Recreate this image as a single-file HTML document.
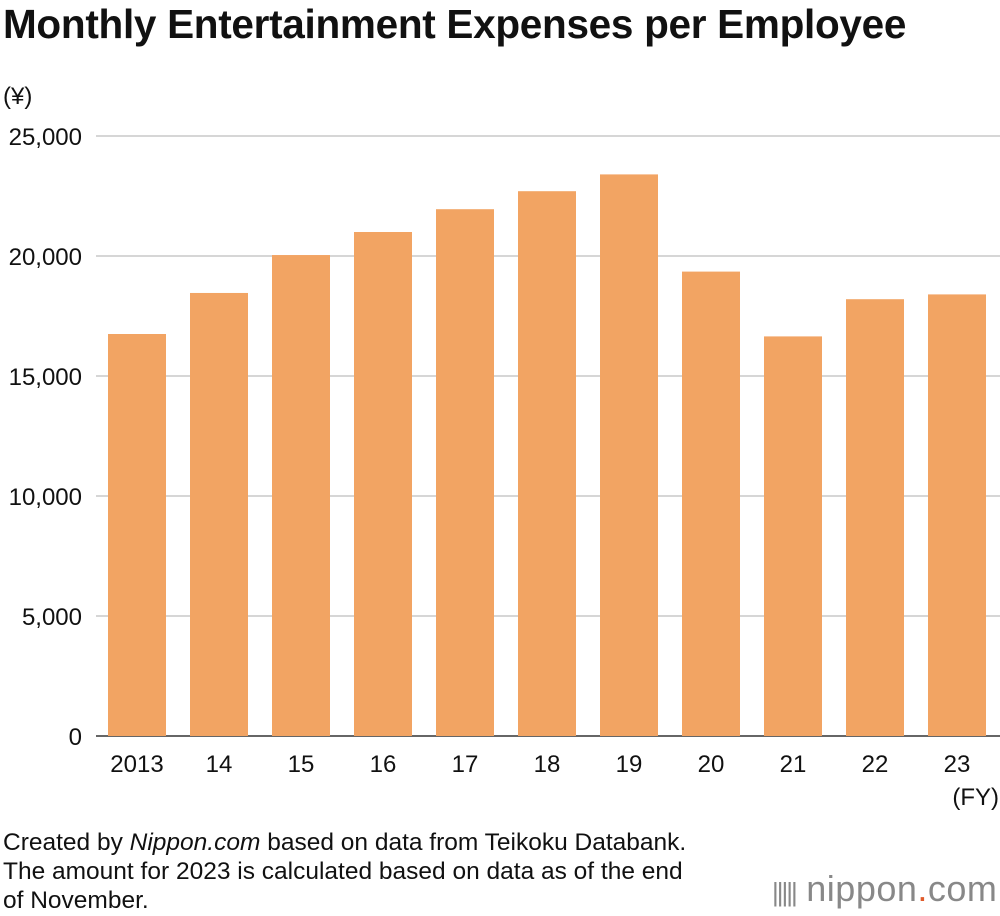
<!DOCTYPE html>
<html><head><meta charset="utf-8">
<style>
body{margin:0;background:#fff;font-family:"Liberation Sans",Arial,sans-serif;color:#111;}
#wrap{position:relative;width:1000px;height:916px;overflow:hidden;}
.title{position:absolute;left:3px;top:1px;font-size:40.5px;font-weight:bold;letter-spacing:-0.3px;}
.foot{position:absolute;left:3px;top:828px;font-size:24.5px;line-height:29px;}
.logo{position:absolute;left:772px;top:868px;font-size:36px;color:#888;letter-spacing:0.5px;}
</style></head><body>
<div id="wrap">
<div class="title">Monthly Entertainment Expenses per Employee</div>
<svg id="chart" width="1000" height="916" style="position:absolute;left:0;top:0"></svg>
<div class="foot">Created by <i>Nippon.com</i> based on data from Teikoku Databank.<br>The amount for 2023 is calculated based on data as of the end<br>of November.</div>
<div class="logo"><span style="font-size:26px;letter-spacing:-2px">|||||</span> nippon<span style="color:#e05a2a">.</span>com</div>
</div>
<script>
const categories=["2013","14","15","16","17","18","19","20","21","22","23"];
const values=[16750,18460,20040,21000,21950,22700,23400,19350,16650,18200,18400];
const yTicks=[0,5000,10000,15000,20000,25000];
const yTickLabels=["0","5,000","10,000","15,000","20,000","25,000"];
const svg=document.getElementById('chart');
const NS='http://www.w3.org/2000/svg';
const x0=96,band=82,barW=58,yBase=736,yTop=136,yMax=25000;
function yScale(v){return yBase-(v/yMax)*(yBase-yTop);}
function xScale(i){return x0+i*band+(band-barW)/2;}
function mk(t,a){const e=document.createElementNS(NS,t);for(const k in a)e.setAttribute(k,a[k]);svg.appendChild(e);return e;}
yTicks.forEach((t,i)=>{
  const y=yScale(t);
  const g=mk('line',{x1:x0,x2:1000,y1:y,y2:y,stroke:t===0?'#333':'#c8c8c8','stroke-width':1.5});
  
  
  const tx=mk('text',{x:82,y:y+9,'text-anchor':'end','font-size':24,fill:'#111','font-family':'Liberation Sans, Arial, sans-serif'});
  tx.textContent=yTickLabels[i];
  
  
});
const unit=mk('text',{x:3,y:104,'font-size':24,fill:'#111','font-family':'Liberation Sans, Arial, sans-serif'});
unit.textContent='(¥)';


categories.forEach((c,i)=>{
  const y=yScale(values[i]);
  const r=mk('rect',{x:xScale(i),y:y,width:barW,height:yBase-y,fill:'#f2a463'});
  
  
  const t=mk('text',{x:xScale(i)+barW/2,y:772,'text-anchor':'middle','font-size':24,fill:'#111','font-family':'Liberation Sans, Arial, sans-serif'});
  t.textContent=c;
  
  
});
const fy=mk('text',{x:999,y:805,'text-anchor':'end','font-size':24,fill:'#111','font-family':'Liberation Sans, Arial, sans-serif'});
fy.textContent='(FY)';


</script>
</body></html>
